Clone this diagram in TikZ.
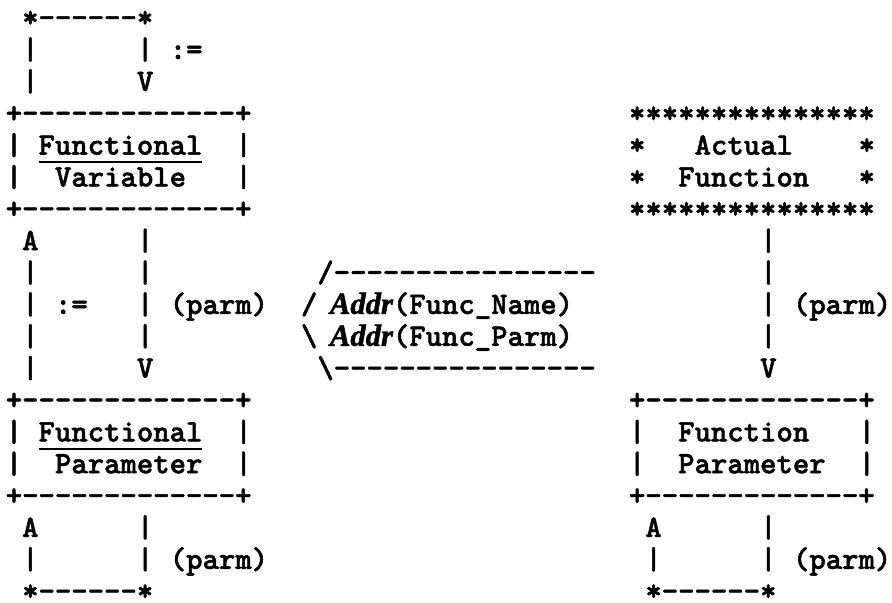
\documentclass[tikz,border=0pt]{standalone}
\usepackage{fontspec}
\newfontfamily\tw{lmmonolt10-bold.otf}[Ligatures=TeXOff,FakeBold=1.6]
\newfontfamily\addrf{Liberation Serif}[UprightFont=* Bold Italic,FakeBold=1.6]
\tikzset{
  tw/.style={font=\tw\fontsize{15.6pt}{16pt}\selectfont, inner sep=0pt, outer sep=0pt, anchor=base west},
  uline/.style={line width=0.9pt}
}
\newcommand\Tx[4]{\node[tw] (#1) at ({2.9pt+8.2pt*(#2)},{-13.6pt-15.93pt*(#3)}) {#4};}
\newcommand\Addr{{\addrf\fontsize{15.3pt}{16pt}\selectfont Addr}}
\begin{document}
\begin{tikzpicture}
\useasboundingbox[fill=white] (0,0) rectangle (446pt,-301.5pt);
% ---------- left column ----------
\Tx{a0}{1}{0}{*------*}
\Tx{a1a}{1}{1}{|}
\Tx{a1b}{8}{1}{|}
\Tx{a1c}{10}{1}{:=}
\Tx{a2a}{1}{2}{|}
\Tx{a2b}{8}{2}{V}
\Tx{fvtop}{0}{3}{+-------------+}
\Tx{a4a}{0}{4}{|}
\Tx{fv1}{2}{4}{Functional}
\Tx{a4b}{14}{4}{|}
\Tx{a5a}{0}{5}{|}
\Tx{fv2}{3}{5}{Variable}
\Tx{a5b}{14}{5}{|}
\Tx{fvbot}{0}{6}{+-------------+}
\Tx{a7a}{1}{7}{A}
\Tx{a7b}{8}{7}{|}
\Tx{a8a}{1}{8}{|}
\Tx{a8b}{8}{8}{|}
\Tx{a9a}{1}{9}{|}
\Tx{a9b}{3}{9}{:=}
\Tx{a9c}{8}{9}{|}
\Tx{a9d}{10}{9}{(parm)}
\Tx{a10a}{1}{10}{|}
\Tx{a10b}{8}{10}{|}
\Tx{a11a}{1}{11}{|}
\Tx{a11b}{8}{11}{V}
\Tx{fptop}{0}{12}{+-------------+}
\Tx{a13a}{0}{13}{|}
\Tx{fp1}{2}{13}{Functional}
\Tx{a13b}{14}{13}{|}
\Tx{a14a}{0}{14}{|}
\Tx{fp2}{3}{14}{Parameter}
\Tx{a14b}{14}{14}{|}
\Tx{fpbot}{0}{15}{+-------------+}
\Tx{a16a}{1}{16}{A}
\Tx{a16b}{8}{16}{|}
\Tx{a17a}{1}{17}{|}
\Tx{a17b}{8}{17}{|}
\Tx{a17c}{10}{17}{(parm)}
\Tx{a18}{1}{18}{*------*}
\draw[uline] ([yshift=-3.8pt]fv1.base west) -- ([yshift=-3.8pt]fv1.base east);
\draw[uline] ([yshift=-3.8pt]fp1.base west) -- ([yshift=-3.8pt]fp1.base east);
% ---------- middle ----------
\Tx{m8}{19}{8}{/----------------}
\Tx{m9a}{18}{9}{/}
\node[tw] (m9b) at (165pt,{-13.6pt-15.93pt*9}) {\Addr(Func\_Name)};
\Tx{m10a}{18}{10}{\textbackslash}
\node[tw] (m10b) at (165pt,{-13.6pt-15.93pt*10}) {\Addr(Func\_Parm)};
\Tx{m11}{19}{11}{\textbackslash----------------}
% ---------- right column ----------
\Tx{aftop}{38}{3}{***************}
\Tx{b4a}{38}{4}{*}
\Tx{af1}{42}{4}{Actual}
\Tx{b4b}{52}{4}{*}
\Tx{b5a}{38}{5}{*}
\Tx{af2}{41}{5}{Function}
\Tx{b5b}{52}{5}{*}
\Tx{afbot}{38}{6}{***************}
\Tx{b7}{46}{7}{|}
\Tx{b8}{46}{8}{|}
\Tx{b9a}{46}{9}{|}
\Tx{b9b}{48}{9}{(parm)}
\Tx{b10}{46}{10}{|}
\Tx{b11}{46}{11}{V}
\Tx{fntop}{38}{12}{+-------------+}
\Tx{b13a}{38}{13}{|}
\Tx{fn1}{41}{13}{Function}
\Tx{b13b}{52}{13}{|}
\Tx{b14a}{38}{14}{|}
\Tx{fn2}{41}{14}{Parameter}
\Tx{b14b}{52}{14}{|}
\Tx{fnbot}{38}{15}{+-------------+}
\Tx{b16a}{39}{16}{A}
\Tx{b16b}{46}{16}{|}
\Tx{b17a}{39}{17}{|}
\Tx{b17b}{46}{17}{|}
\Tx{b17c}{48}{17}{(parm)}
\Tx{b18}{39}{18}{*------*}
\end{tikzpicture}
\end{document}
